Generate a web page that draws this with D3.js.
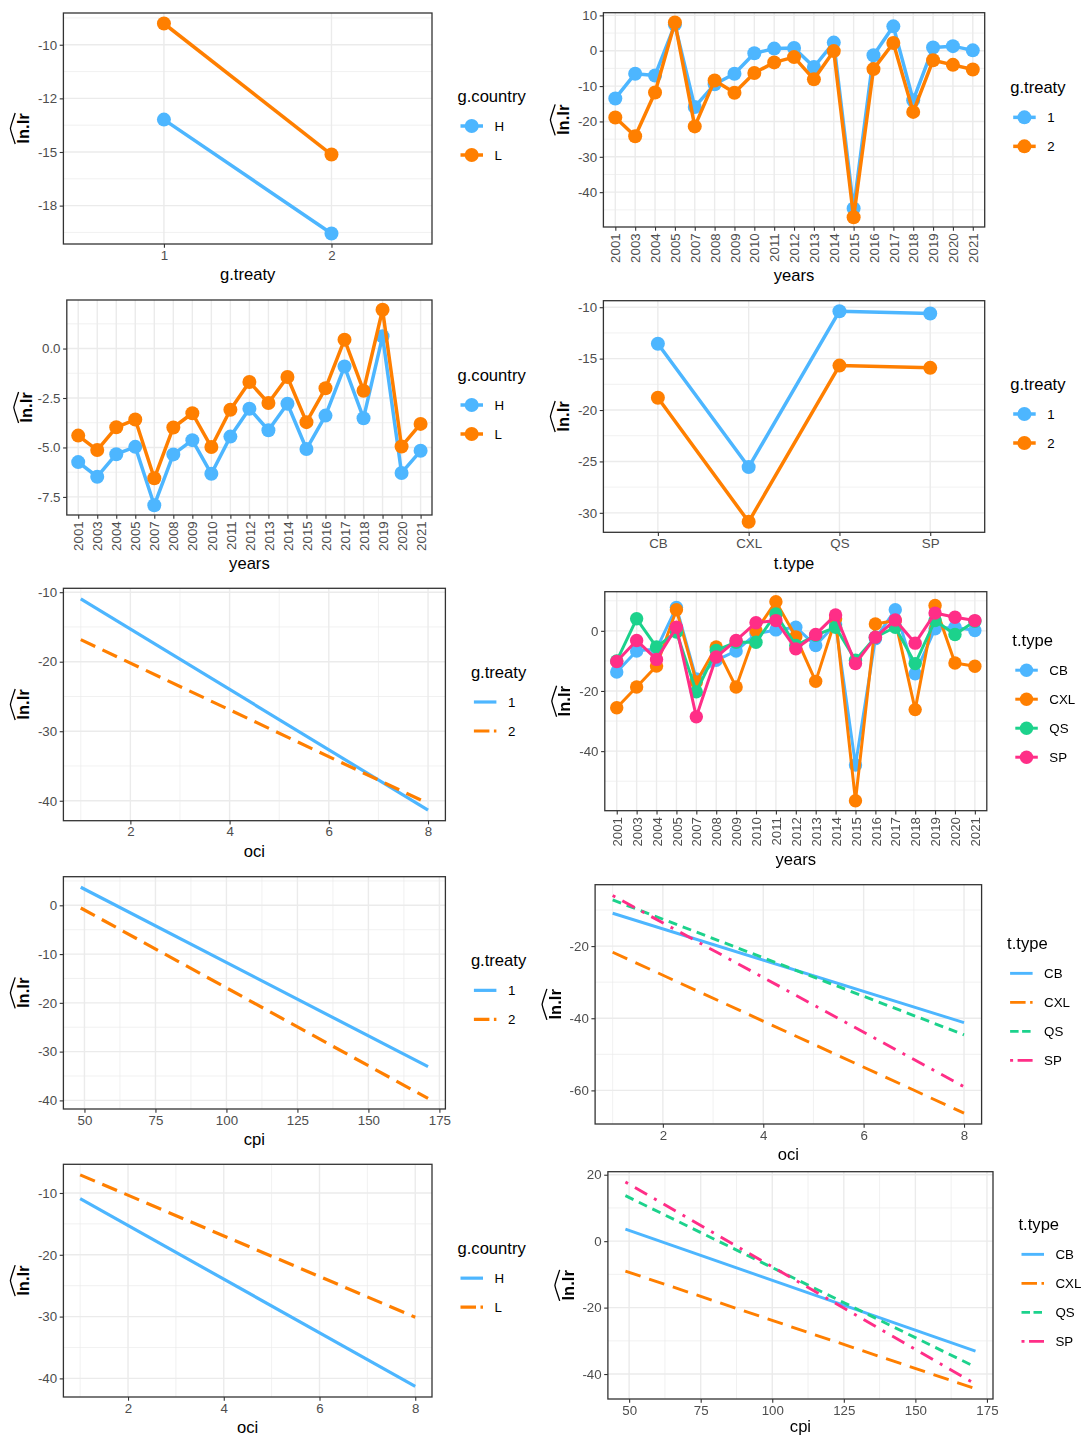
<!DOCTYPE html>
<html>
<head>
<meta charset="utf-8">
<script src="https://cdn.jsdelivr.net/npm/d3@7"></script>
<style>body{margin:0;background:#fff}</style>
</head>
<body>
<svg id="fig" width="1081" height="1437"></svg>
<script>
// ---- categories ----
const treatyLevels = ["1", "2"];
const countryLevels = ["H", "L"];
const ttypes = ["CB", "CXL", "QS", "SP"];
const years = ["2001","2003","2004","2005","2007","2008","2009","2010","2011","2012",
               "2013","2014","2015","2016","2017","2018","2019","2020","2021"];

// ---- predicted ln.lr by g.treaty, per g.country ----
const treatyCountryH = [-13.49, -18.80];
const treatyCountryL = [-9.01, -15.12];

// ---- predicted ln.lr by year, per g.treaty ----
const yearsTreaty1 = [-13.5, -6.5, -7.0, 7.4, -15.9, -9.5, -6.5, -0.7, 0.6, 0.8,
                      -4.6, 2.3, -44.6, -1.3, 6.9, -14.0, 0.9, 1.3, 0.1];
const yearsTreaty2 = [-18.9, -24.2, -11.8, 8.0, -21.4, -8.4, -11.9, -6.3, -3.3, -1.8,
                      -8.1, -0.1, -47.1, -5.2, 2.2, -17.3, -2.7, -4.0, -5.3];

// ---- predicted ln.lr by year, per g.country ----
const yearsCountryH = [-5.74, -6.48, -5.34, -4.97, -7.92, -5.35, -4.63, -6.33, -4.45, -3.04,
                       -4.13, -2.79, -5.08, -3.39, -0.91, -3.52, 0.62, -6.29, -5.17];
const yearsCountryL = [-4.40, -5.13, -3.98, -3.59, -6.56, -3.99, -3.27, -4.98, -3.09, -1.69,
                       -2.75, -1.44, -3.72, -2.01, 0.45, -2.13, 1.96, -4.95, -3.81];

// ---- predicted ln.lr by t.type, per g.treaty ----
const ttypeTreaty1 = [-13.55, -25.55, -10.39, -10.61];
const ttypeTreaty2 = [-18.81, -30.87, -15.68, -15.90];

// ---- predicted ln.lr by year, per t.type ----
const yearsCB  = [-13.7, -6.7, -6.0, 7.8, -16.0, -9.8, -6.7, -1.0, 0.3, 1.2,
                  -4.9, 2.3, -44.6, -2.6, 7.0, -14.3, 0.7, 1.2, 0.1];
const yearsCXL = [-25.6, -18.7, -11.7, 7.0, -17.0, -5.4, -18.7, 0.0, 9.7, -2.0,
                  -16.8, 4.0, -56.5, 2.3, 3.4, -26.2, 8.4, -10.7, -11.8];
const yearsQS  = [-10.0, 4.0, -5.4, -0.4, -20.3, -6.5, -3.8, -3.8, 5.6, -4.9,
                  -1.5, 1.2, -9.8, -2.1, 1.2, -10.9, 3.4, -1.2, 3.2];
const yearsSP  = [-10.2, -3.2, -9.5, 1.2, -28.6, -8.7, -3.2, 2.7, 3.4, -6.0,
                  -1.2, 5.3, -10.9, -2.1, 3.6, -4.1, 5.9, 4.5, 3.4];

// ---- fitted lines over oci / cpi (ends of each straight fit) ----
const ociRange = [1, 8];
const cpiRange = [48.7, 171];
const ociTreaty1 = [-10.96, -41.35];
const ociTreaty2 = [-16.83, -40.38];
const cpiTreaty1 = [3.7, -33.08];
const cpiTreaty2 = [-0.55, -39.6];
const ociCB  = [-10.9, -41.2];
const ociCXL = [-21.7, -66.3];
const ociQS  = [-7.2, -44.6];
const ociSP  = [-6.0, -59.0];
const ociCountryH = [-10.92, -41.3];
const ociCountryL = [-7.07, -30.1];
const cpiCB  = [3.6, -33.1];
const cpiCXL = [-9.0, -44.4];
const cpiQS  = [13.7, -37.9];
const cpiSP  = [17.8, -43.0];

// ---- tick values and labels ----
const yTicksTreaty = [-10, -12.5, -15, -17.5];
const yLabelsTreaty = ["-10", "-12", "-15", "-18"];
const yTicksYearsTreaty = [10, 0, -10, -20, -30, -40];
const yTicksYearsCountry = [0, -2.5, -5, -7.5];
const yLabelsYearsCountry = ["0.0", "-2.5", "-5.0", "-7.5"];
const yTicksTtype = [-10, -15, -20, -25, -30];
const yTicksOciTreaty = [-10, -20, -30, -40];
const yTicksYearsType = [0, -20, -40];
const yTicksCpiTreaty = [0, -10, -20, -30, -40];
const yTicksOciType = [-20, -40, -60];
const yTicksOciCountry = [-10, -20, -30, -40];
const yTicksCpiType = [20, 0, -20, -40];
const xTicksOci = [2, 4, 6, 8];
const xTicksCpi = [50, 75, 100, 125, 150, 175];

// ---- drawing ----
const FONT = "'Liberation Sans', Arial, Helvetica, sans-serif";
const BLUE = "#4DB6FF", ORANGE = "#FF7F00", GREEN = "#1ED28C", PINK = "#FF2D87";
// line dash patterns, and the shorter versions used in the legend keys
const DASHED = { line: "16,8", key: "15.5,4.5" };
const LONGDASH = { line: "16,9", key: "15.5,4.5" };
const SHORTDASH = { line: "9,6", key: "8.5,3.5" };
const DOTDASH = { line: "3,8,14,8", key: "3,4.5,16,0" };

const svg = d3.select("#fig").style("font-family", FONT);
const defs = svg.append("defs");
defs.append("filter").attr("id", "soft").attr("x", "-5%").attr("y", "-5%")
  .attr("width", "110%").attr("height", "110%")
  .append("feGaussianBlur").attr("stdDeviation", 0.6);

const plain = d => String(d);

function expand(vals) {
  const [a, b] = d3.extent(vals);
  const p = (b - a) * 0.05;
  return [a - p, b + p];
}

function minorBreaks(majors, domain) {
  const m = majors.slice().sort((a, b) => a - b);
  const step = m[1] - m[0];
  const lo = Math.min(...domain), hi = Math.max(...domain);
  const out = [m[0] - step / 2];
  for (let i = 0; i < m.length - 1; i++) out.push((m[i] + m[i + 1]) / 2);
  out.push(m[m.length - 1] + step / 2);
  return out.filter(v => v > lo && v < hi);
}

function drawPanel(cfg) {
  const [x0, y0, x1, y1] = cfg.rect;
  const g = svg.append("g");
  if (cfg.soft) g.attr("filter", "url(#soft)");

  const allY = cfg.series.flatMap(s => s.y);
  const yScale = d3.scaleLinear().domain(expand(allY)).range([y1, y0]);
  let xScale;
  if (cfg.cats) {
    xScale = d3.scalePoint().domain(cfg.cats).range([x0, x1]).padding(0.6);
  } else {
    const allX = cfg.series.flatMap(s => s.x);
    xScale = d3.scaleLinear().domain(expand(allX)).range([x0, x1]);
  }
  const px = d => xScale(d);

  // background grid
  const grid = g.append("g");
  grid.selectAll("line.ymin").data(minorBreaks(cfg.yTicks, yScale.domain())).join("line")
    .attr("x1", x0).attr("x2", x1).attr("y1", d => yScale(d)).attr("y2", d => yScale(d))
    .attr("stroke", "#EBEBEB").attr("stroke-width", 0.7);
  if (!cfg.cats) {
    grid.selectAll("line.xmin").data(minorBreaks(cfg.xTicks, xScale.domain())).join("line")
      .attr("y1", y0).attr("y2", y1).attr("x1", d => xScale(d)).attr("x2", d => xScale(d))
      .attr("stroke", "#EBEBEB").attr("stroke-width", 0.7);
  }
  grid.selectAll("line.ymaj").data(cfg.yTicks).join("line")
    .attr("x1", x0).attr("x2", x1).attr("y1", d => yScale(d)).attr("y2", d => yScale(d))
    .attr("stroke", "#EBEBEB").attr("stroke-width", 1.4);
  const xMajors = cfg.cats ? cfg.cats : cfg.xTicks;
  grid.selectAll("line.xmaj").data(xMajors).join("line")
    .attr("y1", y0).attr("y2", y1).attr("x1", px).attr("x2", px)
    .attr("stroke", "#EBEBEB").attr("stroke-width", 1.4);

  // series
  const line = d3.line().x(d => xScale(d[0])).y(d => yScale(d[1]));
  cfg.series.forEach(s => {
    const pts = s.x.map((xv, i) => [xv, s.y[i]]);
    g.append("path").datum(pts).attr("d", line)
      .attr("fill", "none").attr("stroke", s.color).attr("stroke-width", cfg.lw)
      .attr("stroke-dasharray", s.dash ? s.dash.line : null).attr("stroke-linejoin", "round");
    if (cfg.r) {
      g.selectAll(null).data(pts).join("circle")
        .attr("cx", d => xScale(d[0])).attr("cy", d => yScale(d[1])).attr("r", cfg.r)
        .attr("fill", s.color);
    }
  });

  // frame
  g.append("rect").attr("x", x0).attr("y", y0).attr("width", x1 - x0).attr("height", y1 - y0)
    .attr("fill", "none").attr("stroke", "#333").attr("stroke-width", 1.3);

  // axes
  const yAxis = d3.axisLeft(yScale).tickValues(cfg.yTicks)
    .tickFormat((d, i) => cfg.yLabels ? cfg.yLabels[i] : plain(d))
    .tickSize(3.7).tickPadding(2.6).tickSizeOuter(0);
  const ya = g.append("g").attr("transform", `translate(${x0},0)`).call(yAxis);
  const xAxis = d3.axisBottom(xScale).tickSize(3.7).tickPadding(2.6).tickSizeOuter(0);
  if (!cfg.cats) xAxis.tickValues(cfg.xTicks).tickFormat(plain);
  const xa = g.append("g").attr("transform", `translate(0,${y1})`).call(xAxis);
  [ya, xa].forEach(a => {
    a.select(".domain").remove();
    a.selectAll(".tick line").attr("stroke", "#333").attr("stroke-width", 1.1);
    a.selectAll(".tick text").attr("fill", "#4D4D4D").attr("font-size", 13.3)
      .attr("font-family", FONT);
  });
  if (cfg.rotateX) {
    xa.selectAll(".tick text").attr("transform", "rotate(-90)")
      .attr("text-anchor", "end").attr("x", -6.3).attr("y", 0).attr("dy", "0.35em");
  }

  // axis titles
  const cx = (x0 + x1) / 2, cy = (y0 + y1) / 2;
  const titleGap = cfg.titleGap || (cfg.rotateX ? 48.5 : 30.5);
  g.append("text").attr("x", cx).attr("y", y1 + titleGap)
    .attr("dy", "0.35em").attr("text-anchor", "middle").attr("font-size", 16.6)
    .attr("fill", "#000").text(cfg.xTitle);
  const yt = g.append("g").attr("transform", `translate(${x0 - 34.4},${cy}) rotate(-90)`);
  yt.append("text").attr("text-anchor", "middle").attr("font-weight", "bold")
    .attr("font-size", 16.6).attr("fill", "#000").text("ln.lr");
  yt.append("path")
    .attr("d", "M-15.5,-13.8 C-8,-16.2 -3,-18.2 0,-18.6 C3,-18.2 8,-16.2 15.5,-13.8")
    .attr("fill", "none").attr("stroke", "#000").attr("stroke-width", 1.3);

  // legend
  const n = cfg.series.length;
  const lx = x1 + 25.5;
  const ty = cy - 32.5 - (n - 2) * 14.25;
  g.append("text").attr("x", lx).attr("y", ty).attr("dy", "0.35em")
    .attr("font-size", 16.6).attr("fill", "#000").text(cfg.legendTitle);
  cfg.series.forEach((s, i) => {
    const ky = ty + 30 + i * 29;
    g.append("line").attr("x1", lx + 3).attr("x2", lx + 25.5).attr("y1", ky).attr("y2", ky)
      .attr("stroke", s.color).attr("stroke-width", cfg.lw)
      .attr("stroke-dasharray", s.dash ? s.dash.key : null);
    if (cfg.r) {
      g.append("circle").attr("cx", lx + 14.2).attr("cy", ky).attr("r", cfg.r).attr("fill", s.color);
    }
    g.append("text").attr("x", lx + 37).attr("y", ky).attr("dy", "0.35em")
      .attr("font-size", 13.3).attr("fill", "#000").text(s.label);
  });
}

// row 1
drawPanel({
  rect: [63.4, 13, 432, 244], cats: treatyLevels, yTicks: yTicksTreaty, yLabels: yLabelsTreaty,
  xTitle: "g.treaty", legendTitle: "g.country", lw: 3.5, r: 7,
  series: [
    { label: countryLevels[0], color: BLUE, x: treatyLevels, y: treatyCountryH },
    { label: countryLevels[1], color: ORANGE, x: treatyLevels, y: treatyCountryL }
  ]
});
drawPanel({
  rect: [603.4, 12.7, 984.7, 227], cats: years, rotateX: true, yTicks: yTicksYearsTreaty,
  xTitle: "years", legendTitle: "g.treaty", lw: 3.5, r: 7,
  series: [
    { label: treatyLevels[0], color: BLUE, x: years, y: yearsTreaty1 },
    { label: treatyLevels[1], color: ORANGE, x: years, y: yearsTreaty2 }
  ]
});
// row 2
drawPanel({
  rect: [66.8, 300, 432, 515], cats: years, rotateX: true, yTicks: yTicksYearsCountry,
  yLabels: yLabelsYearsCountry, xTitle: "years", legendTitle: "g.country", lw: 3.5, r: 7,
  series: [
    { label: countryLevels[0], color: BLUE, x: years, y: yearsCountryH },
    { label: countryLevels[1], color: ORANGE, x: years, y: yearsCountryL }
  ]
});
drawPanel({
  rect: [603.4, 300.7, 984.7, 532.3], cats: ttypes, yTicks: yTicksTtype,
  xTitle: "t.type", legendTitle: "g.treaty", lw: 3.5, r: 7,
  series: [
    { label: treatyLevels[0], color: BLUE, x: ttypes, y: ttypeTreaty1 },
    { label: treatyLevels[1], color: ORANGE, x: ttypes, y: ttypeTreaty2 }
  ]
});
// row 3
drawPanel({
  rect: [63.4, 588.3, 445.4, 820.7], xTicks: xTicksOci, yTicks: yTicksOciTreaty,
  xTitle: "oci", legendTitle: "g.treaty", lw: 3.2,
  series: [
    { label: treatyLevels[0], color: BLUE, x: ociRange, y: ociTreaty1 },
    { label: treatyLevels[1], color: ORANGE, x: ociRange, y: ociTreaty2, dash: DASHED }
  ]
});
drawPanel({
  rect: [604.8, 591.7, 986.8, 810.7], cats: years, rotateX: true, yTicks: yTicksYearsType,
  xTitle: "years", legendTitle: "t.type", lw: 3, r: 6.7, soft: true,
  series: [
    { label: ttypes[0], color: BLUE, x: years, y: yearsCB },
    { label: ttypes[1], color: ORANGE, x: years, y: yearsCXL },
    { label: ttypes[2], color: GREEN, x: years, y: yearsQS },
    { label: ttypes[3], color: PINK, x: years, y: yearsSP }
  ]
});
// row 4
drawPanel({
  rect: [63.4, 876.7, 445.4, 1109], xTicks: xTicksCpi, yTicks: yTicksCpiTreaty,
  xTitle: "cpi", legendTitle: "g.treaty", lw: 3.2,
  series: [
    { label: treatyLevels[0], color: BLUE, x: cpiRange, y: cpiTreaty1 },
    { label: treatyLevels[1], color: ORANGE, x: cpiRange, y: cpiTreaty2, dash: DASHED }
  ]
});
drawPanel({
  rect: [595.1, 884.7, 981.6, 1124], xTicks: xTicksOci, yTicks: yTicksOciType,
  xTitle: "oci", legendTitle: "t.type", lw: 2.9, soft: true,
  series: [
    { label: ttypes[0], color: BLUE, x: ociRange, y: ociCB },
    { label: ttypes[1], color: ORANGE, x: ociRange, y: ociCXL, dash: LONGDASH },
    { label: ttypes[2], color: GREEN, x: ociRange, y: ociQS, dash: SHORTDASH },
    { label: ttypes[3], color: PINK, x: ociRange, y: ociSP, dash: DOTDASH }
  ]
});
// row 5
drawPanel({
  rect: [63.4, 1164.3, 432, 1397], xTicks: xTicksOci, yTicks: yTicksOciCountry,
  xTitle: "oci", legendTitle: "g.country", lw: 3.2,
  series: [
    { label: countryLevels[0], color: BLUE, x: ociRange, y: ociCountryH },
    { label: countryLevels[1], color: ORANGE, x: ociRange, y: ociCountryL, dash: DASHED }
  ]
});
drawPanel({
  rect: [607.9, 1171.7, 993, 1399], xTicks: xTicksCpi, yTicks: yTicksCpiType,
  xTitle: "cpi", legendTitle: "t.type", lw: 2.9, soft: true, titleGap: 27.5,
  series: [
    { label: ttypes[0], color: BLUE, x: cpiRange, y: cpiCB },
    { label: ttypes[1], color: ORANGE, x: cpiRange, y: cpiCXL, dash: LONGDASH },
    { label: ttypes[2], color: GREEN, x: cpiRange, y: cpiQS, dash: SHORTDASH },
    { label: ttypes[3], color: PINK, x: cpiRange, y: cpiSP, dash: DOTDASH }
  ]
});
</script>
</body>
</html>
